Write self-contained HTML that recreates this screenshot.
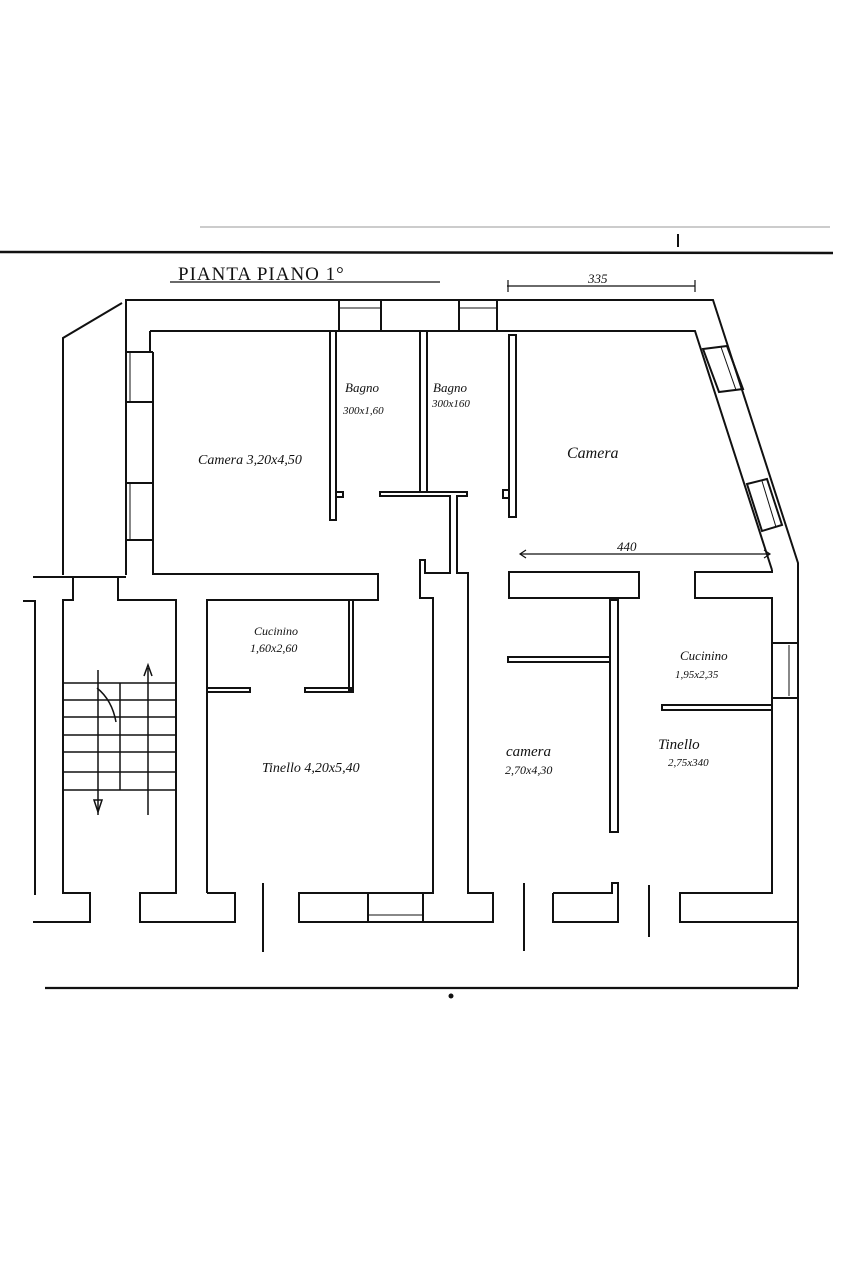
<!DOCTYPE html>
<html><head><meta charset="utf-8"><style>
html,body{margin:0;padding:0;background:#fff;}
svg{display:block}
text{font-family:"Liberation Serif",serif;font-style:italic;fill:#111;}
</style></head><body>
<svg width="853" height="1280" viewBox="0 0 853 1280" xmlns="http://www.w3.org/2000/svg">
<g stroke="#111" stroke-width="2" fill="none" stroke-linejoin="miter">
<!-- top lines -->
<line x1="200" y1="227" x2="830" y2="227" stroke="#999" stroke-width="1"/>
<line x1="0" y1="252" x2="833" y2="253" stroke-width="2.5"/>
<line x1="678" y1="234" x2="678" y2="247"/>
<line x1="170" y1="282" x2="440" y2="282" stroke-width="1.2"/>
<!-- dim 335 -->
<line x1="507" y1="286" x2="695" y2="286" stroke-width="1.2"/>
<line x1="508" y1="280" x2="508" y2="292" stroke-width="1.2"/>
<line x1="695" y1="280" x2="695" y2="292" stroke-width="1.2"/>
<!-- outer wall -->
<polyline points="126,575 126,300 713,300 798,563 798,987"/>
<polyline points="150,331 695,331 772,570"/>
<polyline points="153,352 153,574 378,574 378,600 207,600 207,893"/>
<line x1="126" y1="352" x2="153" y2="352"/>
<line x1="150" y1="331" x2="150" y2="352"/>
<!-- left wall windows -->
<line x1="126" y1="402" x2="153" y2="402"/>
<line x1="126" y1="483" x2="153" y2="483"/>
<line x1="126" y1="540" x2="153" y2="540"/>
<line x1="130" y1="352" x2="130" y2="402" stroke-width="1"/>
<line x1="130" y1="483" x2="130" y2="540" stroke-width="1"/>
<!-- top windows -->
<rect x="339" y="300" width="42" height="31"/>
<line x1="339" y1="308" x2="381" y2="308" stroke-width="1"/>
<rect x="459" y="300" width="38" height="31"/>
<line x1="459" y1="308" x2="497" y2="308" stroke-width="1"/>
<!-- diagonal windows -->
<polygon points="703,349 727,346 743,389 719,392"/>
<line x1="721" y1="347" x2="736" y2="390" stroke-width="1"/>
<polygon points="747,484 767,479 782,525 762,531"/>
<line x1="762" y1="481" x2="776" y2="527" stroke-width="1"/>
<!-- far-left -->
<polyline points="122,303 63,338 63,575"/>
<line x1="33" y1="577" x2="126" y2="577"/>
<polyline points="73,577 73,600 63,600 63,893 90,893 90,922 33,922"/>
<polyline points="118,577 118,600 176,600 176,893 140,893 140,922 235,922 235,893 207,893"/>
<polyline points="23,601 35,601 35,895"/>
<!-- stairs -->
<g stroke-width="1.5">
<line x1="63" y1="683" x2="176" y2="683"/>
<line x1="63" y1="700" x2="176" y2="700"/>
<line x1="63" y1="717" x2="176" y2="717"/>
<line x1="63" y1="735" x2="176" y2="735"/>
<line x1="63" y1="752" x2="176" y2="752"/>
<line x1="63" y1="772" x2="176" y2="772"/>
<line x1="63" y1="790" x2="176" y2="790"/>
<line x1="120" y1="683" x2="120" y2="790"/>
<line x1="98" y1="670" x2="98" y2="815"/>
<polygon points="94,800 102,800 98,812"/>
<line x1="148" y1="668" x2="148" y2="815"/>
<polyline points="144,676 148,665 152,676"/>
<path d="M97,688 Q112,700 116,722"/>
</g>
<!-- bathroom walls -->
<rect x="330" y="331" width="6" height="189"/>
<rect x="336" y="492" width="7" height="5"/>
<rect x="420" y="331" width="7" height="161"/>
<rect x="509" y="335" width="7" height="182"/>
<rect x="503" y="490" width="6" height="8"/>
<polygon points="380,492 467,492 467,496 457,496 457,573 468,573 468,893 493,893 493,922 299,922 299,893 433,893 433,598 420,598 420,560 425,560 425,573 450,573 450,496 380,496"/>
<line x1="368" y1="893" x2="368" y2="922"/>
<line x1="423" y1="893" x2="423" y2="922"/>
<line x1="368" y1="915" x2="423" y2="915" stroke-width="1"/>
<!-- dim 440 -->
<line x1="520" y1="554" x2="770" y2="554" stroke-width="1.2"/>
<polyline points="526,550 520,554 526,558" stroke-width="1.2"/>
<polyline points="764,550 770,554 764,558" stroke-width="1.2"/>
<!-- middle blocks -->
<rect x="509" y="572" width="130" height="26"/>
<polyline points="772,570 772,572 695,572 695,598 772,598 772,893 680,893 680,922 798,922"/>
<!-- camera partition -->
<rect x="610" y="600" width="8" height="232"/>
<rect x="508" y="657" width="102" height="5"/>
<!-- right cucinino -->
<rect x="662" y="705" width="110" height="5"/>
<rect x="772" y="643" width="26" height="55"/>
<line x1="789" y1="645" x2="789" y2="696" stroke-width="1"/>
<!-- left cucinino -->
<rect x="349" y="600" width="4" height="90"/>
<rect x="207" y="688" width="43" height="4"/>
<rect x="305" y="688" width="48" height="4"/>
<!-- bottom -->
<polyline points="553,893 612,893 612,883 618,883 618,922 553,922 553,893"/>
<line x1="263" y1="883" x2="263" y2="952"/>
<line x1="524" y1="883" x2="524" y2="951"/>
<line x1="649" y1="885" x2="649" y2="937"/>
<line x1="45" y1="988" x2="798" y2="988" stroke-width="2.2"/>
</g>
<circle cx="451" cy="996" r="2.5" fill="#111"/>
<text x="178" y="280" font-size="19" style="font-style:normal" letter-spacing="1">PIANTA PIANO 1°</text>
<text x="588" y="283" font-size="13">335</text>
<text x="617" y="551" font-size="13">440</text>
<text x="198" y="464" font-size="14">Camera 3,20x4,50</text>
<text x="345" y="392" font-size="13">Bagno</text>
<text x="343" y="414" font-size="11">300x1,60</text>
<text x="433" y="392" font-size="13">Bagno</text>
<text x="432" y="407" font-size="11">300x160</text>
<text x="567" y="458" font-size="16">Camera</text>
<text x="254" y="635" font-size="12">Cucinino</text>
<text x="250" y="652" font-size="12">1,60x2,60</text>
<text x="262" y="772" font-size="14">Tinello 4,20x5,40</text>
<text x="506" y="756" font-size="15">camera</text>
<text x="505" y="774" font-size="12">2,70x4,30</text>
<text x="680" y="660" font-size="13">Cucinino</text>
<text x="675" y="678" font-size="11">1,95x2,35</text>
<text x="658" y="749" font-size="15">Tinello</text>
<text x="668" y="766" font-size="11">2,75x340</text>
</svg>
</body></html>
